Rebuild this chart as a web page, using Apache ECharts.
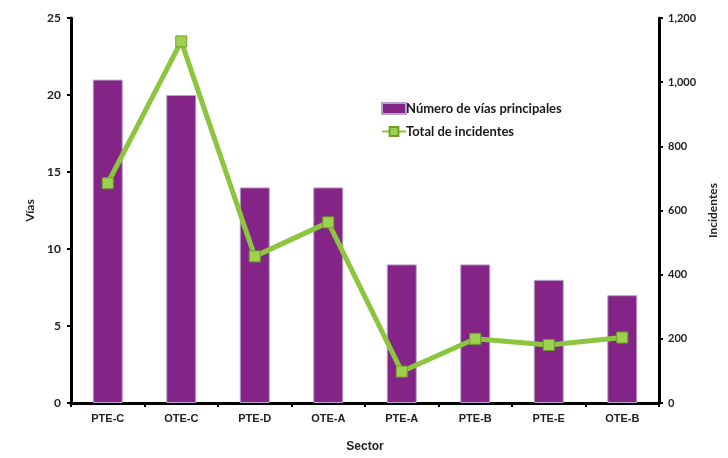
<!DOCTYPE html>
<html>
<head>
<meta charset="utf-8">
<script src="https://cdn.jsdelivr.net/npm/echarts@6/dist/echarts.min.js"></script>
<style>
html,body{margin:0;padding:0;background:#fff;overflow:hidden;}
#chart{width:728px;height:458px;}
</style>
</head>
<body>
<div id="chart"></div>
<script>
const categories = ['PTE-C','OTE-C','PTE-D','OTE-A','PTE-A','PTE-B','PTE-E','OTE-B'];
const vias = [21, 20, 14, 14, 9, 9, 8, 7];
const incidentes = [685, 1127, 457, 563, 98, 200, 181, 204];
const viasTicks = [0, 25, 5];
const incTicks = [0, 1200, 200];

const FONT = 'Lato, "Open Sans", "Liberation Sans", sans-serif';
const NARROW = '"Liberation Sans Narrow", "Liberation Sans", sans-serif';

const el = document.getElementById('chart');
const chart = echarts.init(el, null, {renderer:'canvas', width:728, height:458});
chart.setOption({
  animation: false,
  backgroundColor: '#ffffff',
  grid: {left: 71, right: 69, top: 18, bottom: 46, containLabel: false},
  legend: {
    orient: 'vertical',
    left: 376, top: 97,
    itemGap: 10,
    itemWidth: 24, itemHeight: 11,
    textStyle: {fontFamily: FONT, fontWeight: 'bold', fontSize: 13, color: '#1a1a1a', padding: [0,0,0,-5]},
    data: [
      {name: 'Número de vías principales', icon: 'rect'},
      {name: 'Total de incidentes'}
    ]
  },
  xAxis: {
    type: 'category',
    data: categories,
    name: 'Sector',
    nameLocation: 'middle',
    nameGap: 38,
    nameTextStyle: {fontFamily: NARROW, fontWeight: 'bold', fontSize: 12, color: '#222'},
    axisLine: {lineStyle: {color: '#000', width: 3}},
    axisTick: {show: true, length: 4, lineStyle: {color: '#000', width: 2}},
    axisLabel: {fontFamily: NARROW, fontWeight: 'bold', fontSize: 11, color: '#222', margin: 10}
  },
  yAxis: [
    {
      type: 'value',
      min: viasTicks[0], max: viasTicks[1], interval: viasTicks[2],
      name: 'Vías',
      nameLocation: 'middle',
      nameRotate: 90,
      nameGap: 27,
      nameTextStyle: {fontFamily: FONT, fontWeight: 'bold', fontSize: 12, color: '#222'},
      axisLine: {show: true, lineStyle: {color: '#000', width: 3}},
      axisTick: {show: true, length: 4, lineStyle: {color: '#000', width: 2}},
      axisLabel: {fontFamily: FONT, fontWeight: 'bold', fontSize: 12, color: '#222', margin: 10},
      splitLine: {show: false}
    },
    {
      type: 'value',
      min: incTicks[0], max: incTicks[1], interval: incTicks[2],
      name: 'Incidentes',
      nameLocation: 'middle',
      nameRotate: 90,
      nameGap: 30,
      nameTextStyle: {fontFamily: FONT, fontWeight: 'bold', fontSize: 12, color: '#222'},
      axisLine: {show: true, lineStyle: {color: '#000', width: 3}},
      axisTick: {show: true, length: 4, lineStyle: {color: '#000', width: 2}},
      axisLabel: {fontFamily: FONT, fontWeight: 'bold', fontSize: 11, color: '#222', margin: 9,
        formatter: v => v.toLocaleString('en-US')},
      splitLine: {show: false}
    }
  ],
  series: [
    {
      name: 'Número de vías principales',
      type: 'bar',
      yAxisIndex: 0,
      data: vias,
      barWidth: 30,
      itemStyle: {color: '#832486', borderColor: '#b7a3c8', borderWidth: 1}
    },
    {
      name: 'Total de incidentes',
      type: 'line',
      yAxisIndex: 1,
      data: incidentes,
      symbol: 'rect',
      symbolSize: 11,
      lineStyle: {color: '#8cc63f', width: 5},
      itemStyle: {color: '#9dd24f', borderColor: '#6e9e2c', borderWidth: 1}
    }
  ]
});
</script>
</body>
</html>
